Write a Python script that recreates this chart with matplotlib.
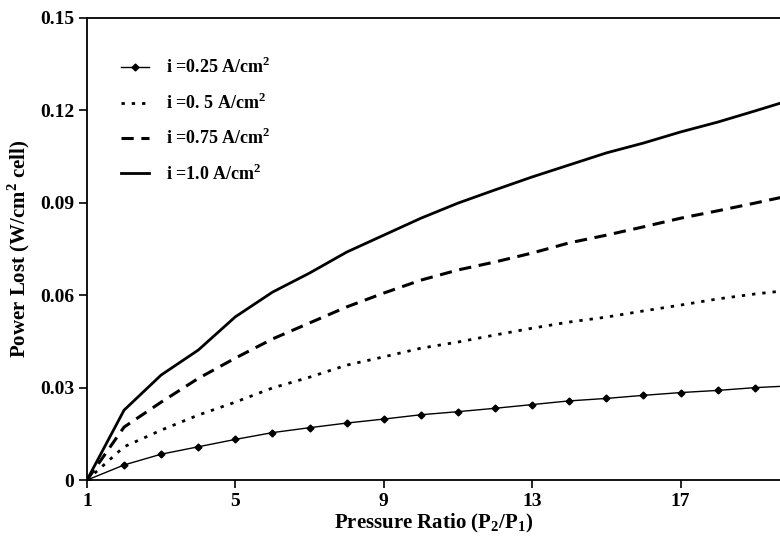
import matplotlib
matplotlib.use("Agg")
import matplotlib.pyplot as plt
from matplotlib.ticker import FuncFormatter

plt.rcParams['font.family'] = ['Liberation Serif', 'DejaVu Serif']
plt.rcParams['font.weight'] = 'bold'
plt.rcParams['mathtext.fontset'] = 'custom'
plt.rcParams['mathtext.rm'] = 'Liberation Serif:bold'
plt.rcParams['mathtext.bf'] = 'Liberation Serif:bold'

pressure_ratio = list(range(1, 21))
p_025 = [0, 0.0049, 0.0084, 0.0108, 0.0132, 0.0154, 0.0170, 0.0185, 0.0198, 0.0212,
         0.0222, 0.0233, 0.0245, 0.0257, 0.0265, 0.0275, 0.0284, 0.0291, 0.0300, 0.0306]
p_050 = [0, 0.0108, 0.0162, 0.0211, 0.0253, 0.0299, 0.0334, 0.0373, 0.0400, 0.0428,
         0.0448, 0.0471, 0.0493, 0.0513, 0.0529, 0.0549, 0.0568, 0.0588, 0.0604, 0.0617]
p_075 = [0, 0.0172, 0.0253, 0.0330, 0.0396, 0.0458, 0.0510, 0.0562, 0.0607, 0.0649,
         0.0682, 0.0708, 0.0737, 0.0770, 0.0795, 0.0822, 0.0850, 0.0874, 0.0899, 0.0925]
p_100 = [0, 0.0227, 0.0341, 0.0422, 0.0530, 0.0610, 0.0672, 0.0740, 0.0795, 0.0850,
         0.0899, 0.0942, 0.0984, 0.1023, 0.1062, 0.1094, 0.1130, 0.1162, 0.1198, 0.1235]
labels = [r'i =0.25 A/cm$^{2}$', r'i =0. 5 A/cm$^{2}$', r'i =0.75 A/cm$^{2}$', r'i =1.0 A/cm$^{2}$']
x_ticks = [1, 5, 9, 13, 17]
y_ticks = [0, 0.03, 0.06, 0.09, 0.12, 0.15]

fig = plt.figure(figsize=(7.8, 5.4), dpi=100)
ax = fig.add_axes([0.1115, 0.111, 0.8885, 0.8557])

ax.plot(pressure_ratio, p_025, color='black', lw=1.0, marker='D', ms=3.5, label=labels[0])
ax.plot(pressure_ratio, p_050, color='black', lw=2.0, ls=(0, (1.2, 2.5)), label=labels[1])
ax.plot(pressure_ratio, p_075, color='black', lw=2.2, ls=(0, (4, 2.5)), label=labels[2])
ax.plot(pressure_ratio, p_100, color='black', lw=2.0, label=labels[3])

ax.set_xlim(1, 19.68)
ax.set_ylim(0, 0.15)
ax.set_xticks(x_ticks)
ax.set_yticks(y_ticks)
ax.yaxis.set_major_formatter(FuncFormatter(lambda v, p: '0' if v == 0 else f'{v:.2f}'))
ax.tick_params(direction='out', length=6, width=1.2, labelsize=14, pad=3)
for lab in ax.get_xticklabels() + ax.get_yticklabels():
    lab.set_fontweight('bold')
ax.spines['right'].set_visible(False)
for s in ['left', 'bottom', 'top']:
    ax.spines[s].set_linewidth(1.3)

ax.set_xlabel(r'Pressure Ratio (P$_{2}$/P$_{1}$)', fontsize=15, fontweight='bold', labelpad=2)
ax.set_ylabel(r'Power Lost (W/cm$^{2}$ cell)', fontsize=15, fontweight='bold', labelpad=6)

leg = ax.legend(loc='upper left', bbox_to_anchor=(0.025, 0.95), frameon=False,
                handlelength=1.6, labelspacing=0.85, handletextpad=0.9,
                prop={'weight': 'bold', 'size': 13})

fig.savefig('out.png', dpi=100)
